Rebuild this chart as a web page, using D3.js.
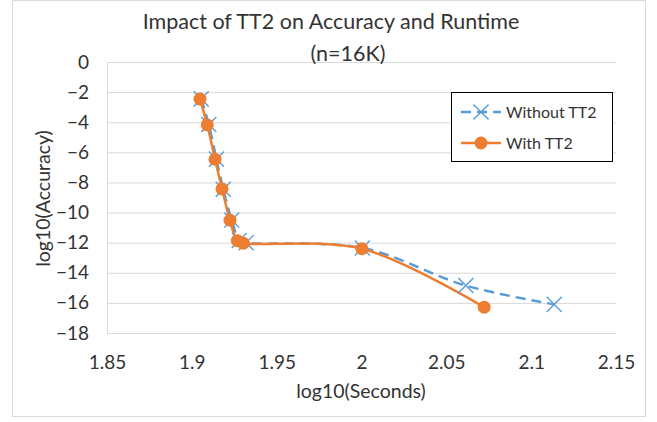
<!DOCTYPE html>
<html>
<head>
<meta charset="utf-8">
<script src="https://cdn.jsdelivr.net/npm/d3@7"></script>
<style>
  body { margin: 0; background: #fff; }
  text { font-family: Lato, "Open Sans", sans-serif; fill: #333; }
</style>
</head>
<body>
<div class="chart"></div>
<script>
// data (log10 seconds, log10 accuracy)
var withoutX = [1.9055, 1.9100, 1.9145, 1.9185, 1.9235, 1.9280, 1.9320, 2.0005, 2.0615, 2.1136];
var withoutY = [-2.45, -4.15, -6.45, -8.45, -10.5, -11.85, -12.0, -12.35, -14.85, -16.1];
var withX = [1.9048, 1.9091, 1.9137, 1.9178, 1.9225, 1.9268, 1.9304, 2.0002, 2.0723];
var withY = [-2.46, -4.18, -6.46, -8.43, -10.51, -11.87, -12.04, -12.40, -16.29];
var xTicks = [1.85, 1.9, 1.95, 2, 2.05, 2.1, 2.15];
var yTicks = [0, -2, -4, -6, -8, -10, -12, -14, -16, -18];
var seriesNames = ["Without TT2", "With TT2"];

var W = 657, H = 422;
var margin = { top: 62, right: 41, bottom: 89, left: 107 },
    width = W - margin.left - margin.right,
    height = H - margin.top - margin.bottom;

var svg = d3.select(".chart").append("svg")
    .attr("width", W)
    .attr("height", H);

// chart border
svg.append("rect")
    .attr("x", 12.5).attr("y", 0.5)
    .attr("width", 633).attr("height", 416)
    .attr("fill", "#fff")
    .attr("stroke", "#d9d9d9");

var g = svg.append("g")
    .attr("transform", "translate(" + margin.left + "," + margin.top + ")");

var x = d3.scaleLinear().domain([1.85, 2.15]).range([0, width]);
var y = d3.scaleLinear().domain([-18, 0]).range([height, 0]);

// gridlines
g.append("g")
    .call(d3.axisLeft(y).tickValues(yTicks).tickSize(-width).tickFormat(""))
    .call(function (a) {
        a.select(".domain").remove();
        a.selectAll("line").attr("stroke", "#d9d9d9").attr("stroke-width", 1);
    });

// y axis line + labels
g.append("g")
    .call(d3.axisLeft(y).tickValues(yTicks).tickSize(0).tickPadding(18).tickFormat(d3.format("d")))
    .call(function (a) {
        a.select(".domain").attr("stroke", "#d9d9d9");
        a.selectAll("text").attr("font-size", 19).style("font-family", "Lato, sans-serif").attr("fill", "#333");
    });

// x axis labels
g.append("g")
    .attr("transform", "translate(0," + height + ")")
    .call(d3.axisBottom(x).tickValues(xTicks).tickSize(0).tickPadding(23).tickFormat(function (d) { return String(+d.toFixed(2)); }))
    .call(function (a) {
        a.select(".domain").attr("stroke", "#d9d9d9");
        a.selectAll("text").attr("font-size", 19).style("font-family", "Lato, sans-serif").attr("fill", "#333");
    });

var withoutData = withoutX.map(function (v, i) { return { x: v, y: withoutY[i] }; });
var withData = withX.map(function (v, i) { return { x: v, y: withY[i] }; });

var line = d3.line()
    .x(function (d) { return x(d.x); })
    .y(function (d) { return y(d.y); })
    .curve(d3.curveCatmullRom.alpha(0.5));

// Without TT2: dashed blue with x markers
g.append("path")
    .datum(withoutData)
    .attr("d", line)
    .attr("fill", "none")
    .attr("stroke", "#5b9bd5")
    .attr("stroke-width", 2.5)
    .attr("stroke-dasharray", "10,6");

// With TT2: solid orange
g.append("path")
    .datum(withData)
    .attr("d", line)
    .attr("fill", "none")
    .attr("stroke", "#ed7d31")
    .attr("stroke-width", 2.5);

var cross = d3.symbol().type(d3.symbolX).size(150);
g.selectAll(".xm")
    .data(withoutData)
    .enter().append("path")
    .attr("class", "xm")
    .attr("transform", function (d) { return "translate(" + x(d.x) + "," + y(d.y) + ")"; })
    .attr("d", function () { return cross(); })
    .attr("fill", "none")
    .attr("stroke", "#5b9bd5")
    .attr("stroke-width", 1.4);

g.selectAll(".dot")
    .data(withData)
    .enter().append("circle")
    .attr("class", "dot")
    .attr("cx", function (d) { return x(d.x); })
    .attr("cy", function (d) { return y(d.y); })
    .attr("r", 6.5)
    .attr("fill", "#ed7d31");

// titles
svg.append("text")
    .attr("x", 331).attr("y", 29)
    .attr("text-anchor", "middle")
    .attr("font-size", 21.5)
    .text("Impact of TT2 on Accuracy and Runtime");
svg.append("text")
    .attr("x", 348).attr("y", 61)
    .attr("text-anchor", "middle")
    .attr("font-size", 21.5)
    .text("(n=16K)");

svg.append("text")
    .attr("x", 361).attr("y", 398)
    .attr("text-anchor", "middle")
    .attr("font-size", 19.5)
    .text("log10(Seconds)");

svg.append("text")
    .attr("transform", "translate(50," + (margin.top + height / 2 + 1) + ") rotate(-90)")
    .attr("text-anchor", "middle")
    .attr("font-size", 19.5)
    .text("log10(Accuracy)");

// legend
var lg = svg.append("g").attr("transform", "translate(451,92)");
lg.append("rect")
    .attr("x", 0.5).attr("y", 0.5)
    .attr("width", 161).attr("height", 69)
    .attr("fill", "#fff")
    .attr("stroke", "#000")
    .attr("stroke-width", 1);

var items = lg.selectAll(".item")
    .data(seriesNames)
    .enter().append("g")
    .attr("transform", function (d, i) { return "translate(10," + (20 + i * 31) + ")"; });

items.append("line")
    .attr("x1", 0).attr("x2", 40)
    .attr("stroke", function (d, i) { return i === 0 ? "#5b9bd5" : "#ed7d31"; })
    .attr("stroke-width", 2.5)
    .attr("stroke-dasharray", function (d, i) { return i === 0 ? "10,6" : null; });

items.each(function (d, i) {
    var it = d3.select(this);
    if (i === 0) {
        it.append("path").attr("transform", "translate(20,0)").attr("d", cross())
            .attr("fill", "none").attr("stroke", "#5b9bd5").attr("stroke-width", 1.4);
    } else {
        it.append("circle").attr("cx", 20).attr("r", 6.5).attr("fill", "#ed7d31");
    }
});

items.append("text")
    .attr("x", 45).attr("dy", "0.35em")
    .attr("font-size", 16)
    .text(function (d) { return d; });
</script>
</body>
</html>
